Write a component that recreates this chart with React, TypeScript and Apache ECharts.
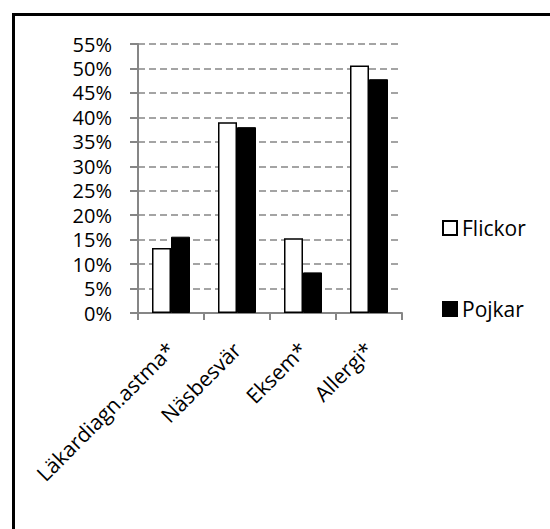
import React, { useEffect, useRef } from "react";
import * as echarts from "echarts";

const categories = ["Läkardiagn.astma*", "Näsbesvär", "Eksem*", "Allergi*"];
const flickor = [13.3, 39.0, 15.3, 50.6];
const pojkar = [15.6, 38.0, 8.3, 47.8];
const seriesNames = ["Flickor", "Pojkar"];

export default function App() {
  const ref = useRef<HTMLDivElement>(null);
  useEffect(() => {
    if (!ref.current) return;
    const chart = echarts.init(ref.current, null, { renderer: "svg" });
    const font = "'Open Sans', sans-serif";
    chart.setOption({
      animation: false,
      backgroundColor: "#ffffff",
      textStyle: { fontFamily: font, color: "#000" },
      graphic: [
        { type: "rect", shape: { x: 12, y: 13, width: 538, height: 3 }, style: { fill: "#000" } },
        { type: "rect", shape: { x: 12, y: 13, width: 3, height: 516 }, style: { fill: "#000" } },
      ],
      grid: { left: 138, right: 148, top: 44, bottom: 216, containLabel: false },
      legend: {
        orient: "vertical",
        left: 437,
        top: 210,
        icon: "rect",
        itemWidth: 14,
        itemHeight: 14,
        itemGap: 55,
        itemTextGap: 6,
        data: seriesNames,
        textStyle: { fontFamily: font, fontSize: 21, lineHeight: 26, color: "#000" },
      },
      xAxis: {
        type: "category",
        data: categories,
        axisLine: { lineStyle: { color: "#868686", width: 2 } },
        axisTick: { show: true, length: 7, alignWithLabel: false, lineStyle: { color: "#868686", width: 2 } },
        axisLabel: {
          interval: 0,
          rotate: 45,
          margin: 33,
          fontSize: 21,
          fontFamily: font,
          color: "#000",
        },
      },
      yAxis: {
        type: "value",
        min: 0,
        max: 55,
        interval: 5,
        axisLine: { show: true, lineStyle: { color: "#868686", width: 2 } },
        axisTick: { show: true, length: 8, lineStyle: { color: "#868686", width: 2 } },
        axisLabel: {
          formatter: "{value}%",
          margin: 26,
          fontSize: 20,
          lineHeight: 20,
          fontFamily: font,
          color: "#000",
        },
        splitLine: { show: true, lineStyle: { color: "#868686", width: 1.5, type: [7, 4] } },
      },
      series: [
        {
          name: seriesNames[0],
          type: "bar",
          data: flickor,
          barWidth: 19,
          barGap: "0%",
          itemStyle: { color: "#ffffff", borderColor: "#000", borderWidth: 1.5 },
        },
        {
          name: seriesNames[1],
          type: "bar",
          data: pojkar,
          barWidth: 19,
          barGap: "0%",
          itemStyle: { color: "#000000", borderColor: "#000", borderWidth: 1 },
        },
      ],
    });
    return () => chart.dispose();
  }, []);
  return (
    <div
      ref={ref}
      style={{ position: "absolute", left: 0, top: 0, width: 550, height: 529 }}
    />
  );
}
